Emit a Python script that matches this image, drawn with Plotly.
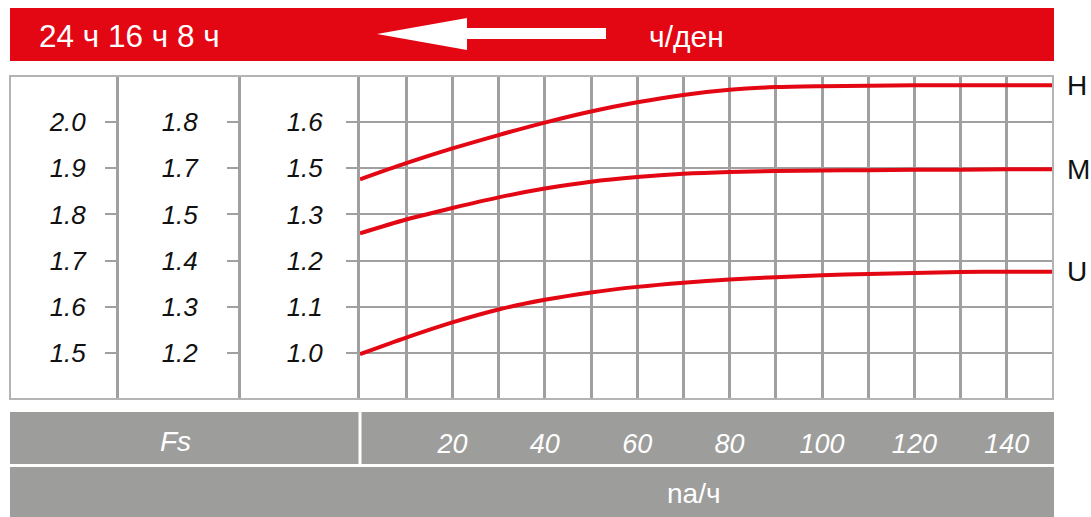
import plotly.graph_objects as go

# ---- data ----
x_vals = [0, 10, 20, 30, 40, 50, 60, 70, 80, 90, 100, 110, 120, 130, 140, 150]
H_vals = [1.876, 1.911, 1.943, 1.972, 1.999, 2.023, 2.043, 2.059, 2.070, 2.076, 2.078, 2.079, 2.080, 2.080, 2.080, 2.080]
M_vals = [1.759, 1.789, 1.814, 1.837, 1.856, 1.871, 1.881, 1.888, 1.892, 1.894, 1.895, 1.896, 1.897, 1.897, 1.898, 1.898]
U_vals = [1.497, 1.533, 1.566, 1.594, 1.615, 1.631, 1.643, 1.652, 1.659, 1.664, 1.668, 1.671, 1.673, 1.675, 1.676, 1.676]
series_names = ["H", "M", "U"]

y_tickvals = [1.5, 1.6, 1.7, 1.8, 1.9, 2.0]
col1_labels = ["1.5", "1.6", "1.7", "1.8", "1.9", "2.0"]   # 24 ч
col2_labels = ["1.2", "1.3", "1.4", "1.5", "1.7", "1.8"]   # 16 ч
col3_labels = ["1.0", "1.1", "1.2", "1.3", "1.5", "1.6"]   # 8 ч

x_tickvals = [0, 10, 20, 30, 40, 50, 60, 70, 80, 90, 100, 110, 120, 130, 140, 150]
x_ticktext = ["", "", "20", "", "40", "", "60", "", "80", "", "100", "", "120", "", "140", ""]

header_left = "24 ч 16 ч 8 ч"
header_right = "ч/ден"
fs_label = "Fs"
x_title = "na/ч"

# ---- styling ----
W, H = 1091, 517
L, R, T, B = 10, 1053, 76, 399
RED = "#e30613"
GRID = "#a0a0a0"
BAR = "#9d9d9c"
FONT = "Liberation Sans, Arial, sans-serif"


def px(xp):
    return (xp - L) / (R - L)


def py(yp):
    return (B - yp) / (B - T)


fig = go.Figure()
for name, vals in zip(series_names, [H_vals, M_vals, U_vals]):
    fig.add_trace(go.Scatter(x=x_vals, y=vals, mode="lines", name=name,
                             line=dict(color=RED, width=4, shape="spline", smoothing=0.8),
                             showlegend=False, hoverinfo="skip"))
# helper traces so the extra axes are drawn
for ya in ["y2", "y3"]:
    fig.add_trace(go.Scatter(x=[0], y=[1.5], mode="markers", marker=dict(opacity=0),
                             yaxis=ya, showlegend=False, hoverinfo="skip"))

yrange = [1.4, 2.1]
common_y = dict(range=yrange, tickvals=y_tickvals, showline=True, linecolor=GRID, linewidth=3,
                ticks="outside", ticklen=11, tickwidth=2, tickcolor=GRID, zeroline=False,
                tickfont=dict(family=FONT, size=26, color="#111111", style="italic"),
                fixedrange=True)

fig.update_layout(
    width=W, height=H,
    margin=dict(l=L, r=W - R, t=T, b=H - B),
    paper_bgcolor="white", plot_bgcolor="white",
    xaxis=dict(domain=[px(360), 1], range=[0, 150], tickvals=x_tickvals, ticktext=x_ticktext,
               showgrid=True, gridcolor=GRID, gridwidth=3, zeroline=False, showline=False,
               ticks="", ticklabelstandoff=26, fixedrange=True,
               tickfont=dict(family=FONT, size=27, color="white", style="italic")),
    yaxis=dict(**common_y, ticktext=col3_labels, showgrid=True, gridcolor=GRID, gridwidth=2,
               ticklabelstandoff=18),
    yaxis2=dict(**common_y, ticktext=col2_labels, overlaying="y", anchor="free",
                position=px(239), side="left", showgrid=False, ticklabelstandoff=24),
    yaxis3=dict(**common_y, ticktext=col1_labels, overlaying="y", anchor="free",
                position=px(117), side="left", showgrid=False, ticklabelstandoff=14),
)

shapes = []
# red header banner
shapes.append(dict(type="rect", xref="paper", yref="paper", x0=px(10), x1=px(1054),
                   y0=py(61), y1=py(8), fillcolor=RED, line=dict(width=0), layer="below"))
# arrow
pts = [(377, 34), (467, 18), (467, 28), (606, 28), (606, 39), (467, 39), (467, 50)]
path = "M " + " L ".join(f"{px(a):.5f},{py(b):.5f}" for a, b in pts) + " Z"
shapes.append(dict(type="path", xref="paper", yref="paper", path=path,
                   fillcolor="white", line=dict(width=0), layer="above"))
# outer border of chart box
shapes.append(dict(type="rect", xref="paper", yref="paper", x0=0, x1=1, y0=0, y1=1,
                   line=dict(color="#b4b4b4", width=2), layer="above"))
# gray bars
shapes.append(dict(type="rect", xref="paper", yref="paper", x0=px(10), x1=px(1054),
                   y0=py(464), y1=py(412), fillcolor=BAR, line=dict(width=0), layer="below"))
shapes.append(dict(type="rect", xref="paper", yref="paper", x0=px(10), x1=px(1054),
                   y0=py(517), y1=py(467), fillcolor=BAR, line=dict(width=0), layer="below"))
shapes.append(dict(type="line", xref="paper", yref="paper", x0=px(360), x1=px(360),
                   y0=py(464), y1=py(412), line=dict(color="white", width=3), layer="below"))
fig.update_layout(shapes=shapes)

ann = []
ann.append(dict(text=header_left, xref="paper", yref="paper", x=px(37), y=py(36),
                xanchor="left", yanchor="middle", showarrow=False,
                font=dict(family=FONT, size=31.5, color="white")))
ann.append(dict(text=header_right, xref="paper", yref="paper", x=px(686), y=py(37),
                xanchor="center", yanchor="middle", showarrow=False,
                font=dict(family=FONT, size=30, color="white")))
ann.append(dict(text=fs_label, xref="paper", yref="paper", x=px(175), y=py(441),
                xanchor="center", yanchor="middle", showarrow=False,
                font=dict(family=FONT, size=28, color="white", style="italic")))
ann.append(dict(text=x_title, xref="paper", yref="paper", x=px(694), y=py(493),
                xanchor="center", yanchor="middle", showarrow=False,
                font=dict(family=FONT, size=28, color="white")))
for name, vals in zip(series_names, [H_vals, M_vals, U_vals]):
    ann.append(dict(text=name, xref="paper", yref="y", x=px(1065), y=vals[-1],
                    xanchor="left", yanchor="middle", showarrow=False,
                    font=dict(family=FONT, size=28, color="#111111")))
fig.update_layout(annotations=ann)

fig.write_html("out.html", config={"displayModeBar": False},
               post_script="document.body.style.margin='0';document.body.style.overflow='hidden';")
